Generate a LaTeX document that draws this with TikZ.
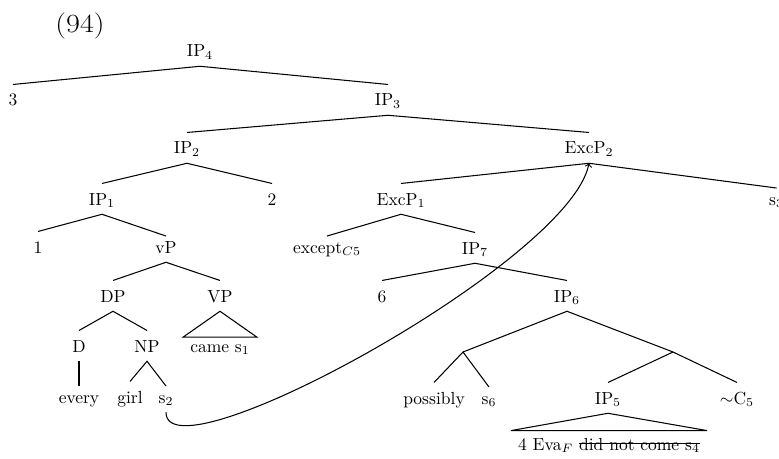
\documentclass[tikz,border=0pt]{standalone}
\newcommand\mystrike[1]{\setbox0\hbox{#1}\rlap{\rule[3.4pt]{\wd0}{0.45pt}}\box0}
\begin{document}
\begin{tikzpicture}[x=0.5714pt,y=-0.5714pt,line width=0.6pt,
  t/.style={anchor=base,inner xsep=1pt,inner ysep=5pt,text height=7pt,text depth=0pt},
  tl/.style={t,text height=4.4pt},
  roofnode/.style={anchor=base,inner xsep=3.8pt,inner ysep=3.8pt,text depth=0pt},
  conn/.style={line width=0.6pt}]
\useasboundingbox (0,0) rectangle (779,458);
\clip (0,0) rectangle (779,458);
% label
\node[anchor=base,inner sep=0pt,xscale=1.15,font=\fontsize{15}{18}\selectfont] (lbl) at (80,33) {(94)};
% nodes
\node[t] (IP4) at (200,57) {IP$_4$};
\node[t] (n3) at (13,106) {3};
\node[t] (IP3) at (388,106) {IP$_3$};
\node[t] (IP2) at (187,154) {IP$_2$};
\node[t] (ExcP2) at (589,154) {ExcP$_2$};
\node[t] (IP1) at (102,205) {IP$_1$};
\node[t] (n2) at (272,205) {2};
\node[t] (ExcP1) at (401,205) {ExcP$_1$};
\node[tl] (s3) at (776.5,205) {s$_3$};
\node[t] (n1) at (38,253) {1};
\node[tl] (vP) at (166,253) {vP};
\node[tl] (exc) at (327,253) {except$_{C5}$};
\node[t] (IP7) at (475,254) {IP$_7$};
\node[t] (DP) at (113,302) {DP};
\node[t] (VP) at (220,302) {VP};
\node[t] (n6) at (382,302) {6};
\node[t] (IP6) at (567,302) {IP$_6$};
\node[t] (D) at (79,352) {D};
\node[t] (NP) at (147,352) {NP};
\node[roofnode,text height=4.4pt] (came) at (220,352) {came s$_1$};
\node[tl] (every) at (79,403) {every};
\node[t] (girl) at (130,403) {girl};
\node[tl] (s2) at (166,403) {s$_2$};
\node[t] (possibly) at (434,404) {possibly};
\node[tl] (s6) at (489,404) {s$_6$};
\node[t] (IP5) at (608,404) {IP$_5$};
\node[t] (C5) at (737,404) {$\sim$C$_5$};
\node[roofnode,text height=7pt] (eva) at (609,450) {4 Eva$_F$ \mystrike{did not come s$_4$}};
\coordinate (b1) at (463,352);
\coordinate (b2) at (673,352);
% edges
\draw[conn] (n3.north) -- (IP4.south) -- (IP3.north);
\draw[conn] (IP2.north) -- (IP3.south) -- (ExcP2.north);
\draw[conn] (IP1.north) -- (IP2.south) -- (n2.north);
\draw[conn] (ExcP1.north) -- (ExcP2.south) -- (s3.north);
\draw[conn] (n1.north) -- (IP1.south) -- (vP.north);
\draw[conn] (exc.north) -- (ExcP1.south) -- (IP7.north);
\draw[conn] (DP.north) -- (vP.south) -- (VP.north);
\draw[conn] (n6.north) -- (IP7.south) -- (IP6.north);
\draw[conn] (D.north) -- (DP.south) -- (NP.north);
\draw[conn] (VP.south) -- (came.north west) -- (came.north east) -- cycle;
\draw[conn] (D.south) -- (every.north);
\draw[conn] (girl.north) -- (NP.south) -- (s2.north);
\draw[conn] (b1) -- (IP6.south) -- (b2);
\draw[conn] (possibly.north) -- (b1) -- (s6.north);
\draw[conn] (IP5.north) -- (b2) -- (C5.north);
\draw[conn] (IP5.south) -- (eva.north west) -- (eva.north east) -- cycle;
% movement arrow
\draw[conn,->] (s2.south) .. controls (166,482) and (570,262) .. (ExcP2.south);
\end{tikzpicture}
\end{document}
